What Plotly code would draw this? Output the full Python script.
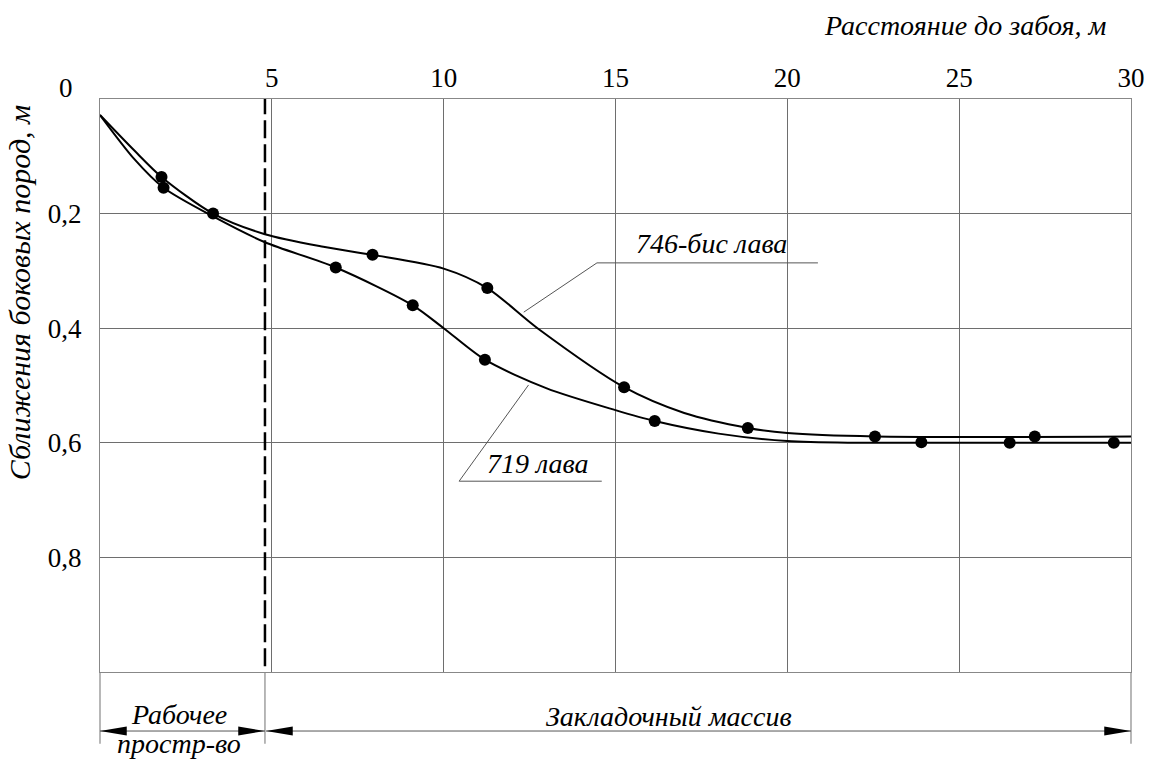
import plotly.graph_objects as go

# Distance to the face, m / convergence of side rocks, m
curve_746_x = [0, 1.0, 1.79, 3.29, 4.8, 6.5, 7.93, 10.0, 11.27, 12.73, 15.25, 17.0, 18.85, 20.0, 22.55, 30.0]
curve_746_y = [0.028, 0.09, 0.136, 0.20, 0.236, 0.258, 0.272, 0.296, 0.33, 0.40, 0.503, 0.548, 0.574, 0.583, 0.589, 0.589]
marks_746_x = [1.79, 3.29, 7.93, 11.27, 15.25, 18.85, 22.55, 27.2]
marks_746_y = [0.136, 0.20, 0.272, 0.33, 0.503, 0.574, 0.589, 0.589]

curve_719_x = [0, 1.0, 1.85, 3.29, 4.8, 6.86, 9.1, 10.0, 11.2, 13.0, 15.0, 16.14, 18.0, 20.0, 22.0, 30.0]
curve_719_y = [0.028, 0.105, 0.155, 0.205, 0.25, 0.294, 0.36, 0.40, 0.455, 0.505, 0.543, 0.562, 0.584, 0.597, 0.6, 0.6]
marks_719_x = [1.85, 6.86, 9.1, 11.2, 16.14, 23.9, 26.47, 29.5]
marks_719_y = [0.155, 0.294, 0.36, 0.455, 0.562, 0.599, 0.6, 0.6]

x_ticks = [5, 10, 15, 20, 25, 30]
y_ticks = [0.2, 0.4, 0.6, 0.8]
y_tick_text = ["0,2", "0,4", "0,6", "0,8"]

face_boundary = 4.8  # edge of the working space, m

SERIF = "Liberation Serif"
GRID = "#6e6e6e"
FS = 28
TICK_FS = 27

fig = go.Figure()
for cx, cy in [(curve_746_x, curve_746_y), (curve_719_x, curve_719_y)]:
    fig.add_trace(go.Scatter(x=cx, y=cy, mode="lines", line=dict(color="black", width=2, shape="spline", smoothing=0.8),
                             hoverinfo="skip", showlegend=False))
for mx, my in [(marks_746_x, marks_746_y), (marks_719_x, marks_719_y)]:
    fig.add_trace(go.Scatter(x=mx, y=my, mode="markers", marker=dict(color="black", size=12),
                             showlegend=False))

shapes = []
# dashed boundary of the working space
shapes.append(dict(type="line", xref="x", yref="y", x0=face_boundary, x1=face_boundary, y0=-0.005, y1=1.0,
                   line=dict(color="black", width=2.5, dash="18px,6px")))
# extension lines below the chart
for xp in [0.0, face_boundary / 30.0, 1.0]:
    shapes.append(dict(type="line", xref="paper", yref="paper", x0=xp, x1=xp, y0=0, y1=-0.125,
                       line=dict(color="#888", width=1.2)))
# dimension arrows
arrow_y = -0.103
head_len = 27 / 1041
head_half = 4.5 / 573
for a, b in [(0.0, face_boundary / 30.0), (face_boundary / 30.0 + 0.001, 1.0)]:
    shapes.append(dict(type="line", xref="paper", yref="paper", x0=a, x1=b, y0=arrow_y, y1=arrow_y,
                       line=dict(color="#555", width=1)))
    shapes.append(dict(type="path", xref="paper", yref="paper",
                       path=f"M{a},{arrow_y} L{a + head_len},{arrow_y + head_half} L{a + head_len},{arrow_y - head_half} Z",
                       fillcolor="black", line=dict(width=0)))
    shapes.append(dict(type="path", xref="paper", yref="paper",
                       path=f"M{b},{arrow_y} L{b - head_len},{arrow_y + head_half} L{b - head_len},{arrow_y - head_half} Z",
                       fillcolor="black", line=dict(width=0)))

# leader lines for the curve labels
shapes += [
    dict(type="line", xref="x", yref="y", x0=14.46, x1=20.89, y0=0.286, y1=0.286, line=dict(color="#555", width=1)),
    dict(type="line", xref="x", yref="y", x0=14.46, x1=12.33, y0=0.286, y1=0.372, line=dict(color="#555", width=1)),
    dict(type="line", xref="x", yref="y", x0=10.45, x1=14.6, y0=0.667, y1=0.667, line=dict(color="#555", width=1)),
    dict(type="line", xref="x", yref="y", x0=10.45, x1=12.47, y0=0.667, y1=0.499, line=dict(color="#555", width=1)),
]

ital = dict(family=SERIF, size=FS, color="black")


def note(text, x, y, ref="paper", **kw):
    return dict(text=text, x=x, y=y, xref="x" if ref == "data" else "paper", yref="y" if ref == "data" else "paper",
                xanchor="center", yanchor="middle", showarrow=False, font=kw.pop("font", ital), **kw)


annotations = [
    note("<i>746-бис лава</i>", 17.78, 0.252, ref="data"),
    note("<i>719 лава</i>", 12.74, 0.636, ref="data"),
    note("<i>Расстояние до забоя, м</i>", 0.839, 1.128),
    note("<i>Сближения боковых пород, м</i>", -0.078, 0.662, textangle=-90,
         font=dict(family=SERIF, size=30, color="black")),
    note("0", -0.033, 1.02, font=dict(family=SERIF, size=TICK_FS, color="black")),
    note("<i>Рабочее</i>", 0.077, -0.075),
    note("<i>простр-во</i>", 0.077, -0.125),
    note("<i>Закладочный массив</i>", 0.552, -0.078),
]

fig.update_layout(
    width=1157, height=760,
    margin=dict(l=100, r=16, t=99, b=88),
    paper_bgcolor="white", plot_bgcolor="white",
    font=dict(family=SERIF, color="black"),
    shapes=shapes, annotations=annotations,
    xaxis=dict(range=[0, 30], side="top", tickvals=x_ticks, ticks="", showgrid=True, gridcolor=GRID, gridwidth=1,
               showline=True, linecolor="#888", linewidth=1.2, mirror=True, zeroline=False,
               tickfont=dict(family=SERIF, size=TICK_FS, color="black"), ticklabelstandoff=0),
    yaxis=dict(range=[1.0, 0], tickvals=y_ticks, ticktext=y_tick_text, ticks="", showgrid=True, gridcolor=GRID,
               gridwidth=1, showline=True, linecolor="#888", linewidth=1.2, mirror=True, zeroline=False,
               tickfont=dict(family=SERIF, size=TICK_FS, color="black"), ticklabelstandoff=12),
)

fig.write_html("out.html")
